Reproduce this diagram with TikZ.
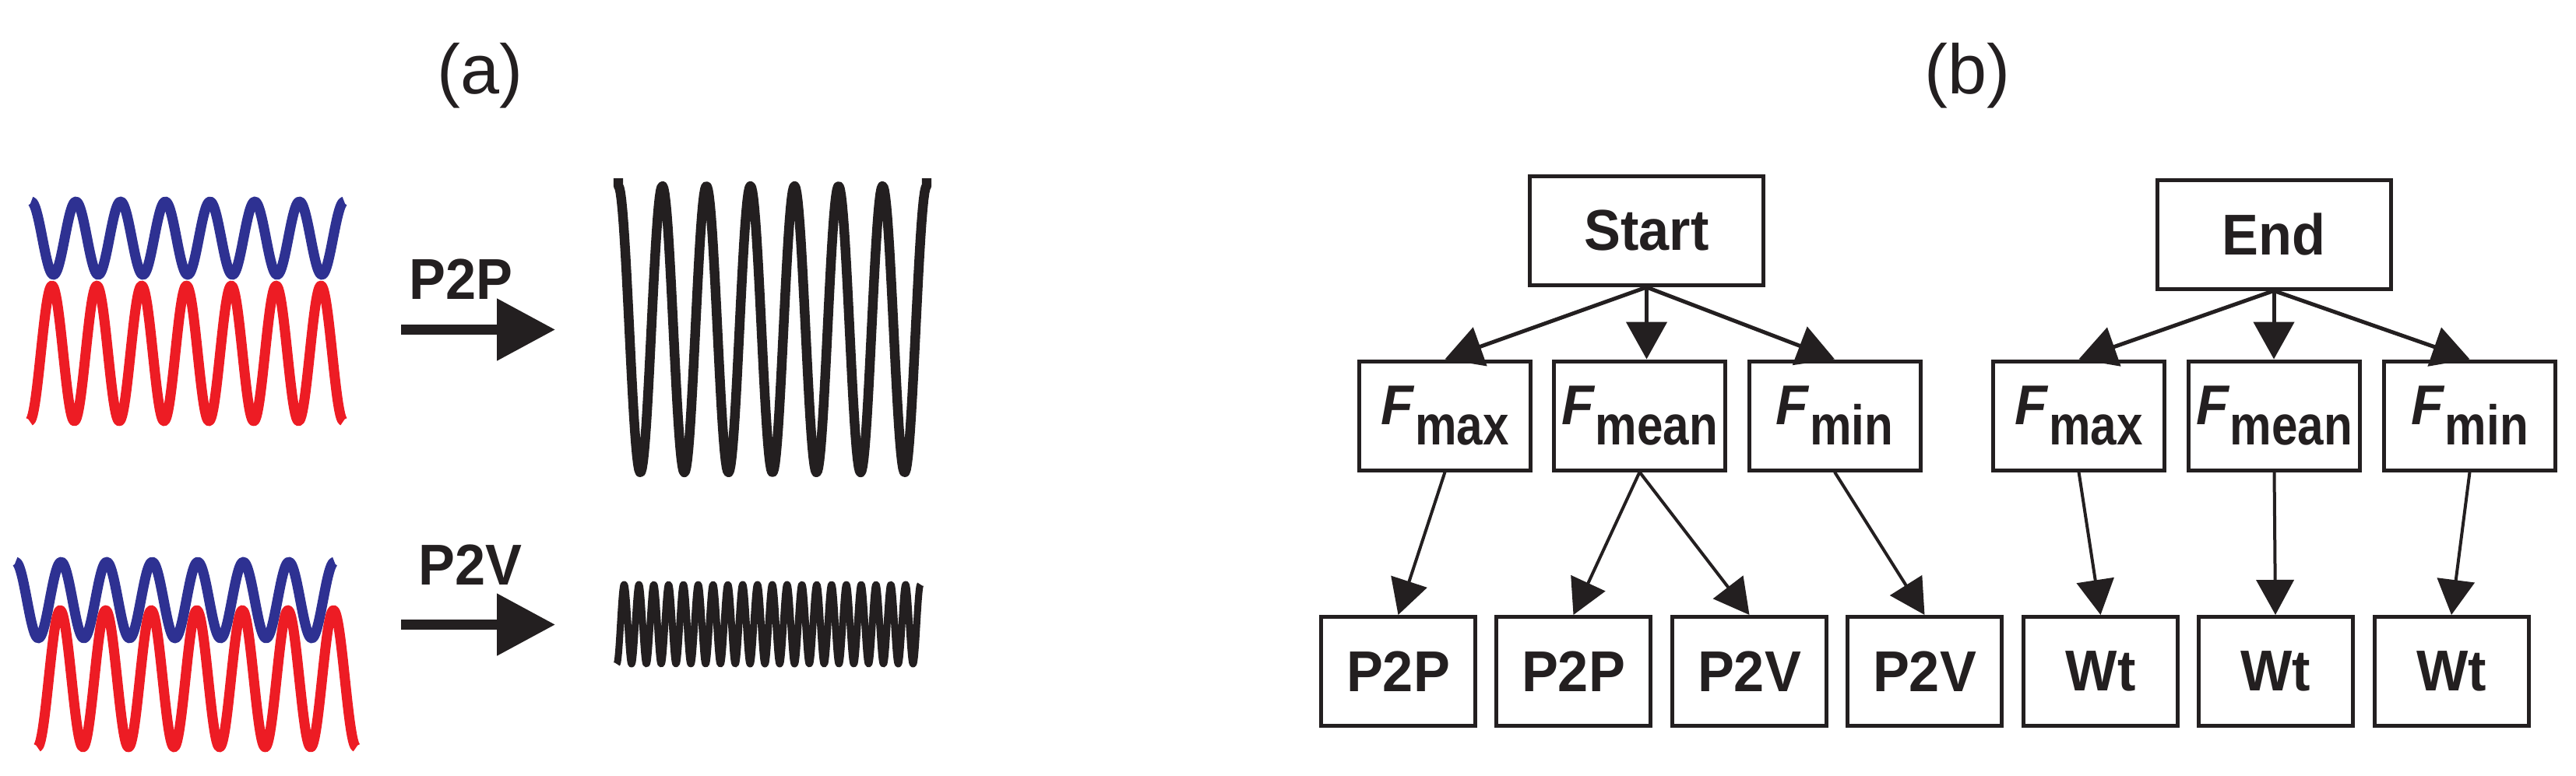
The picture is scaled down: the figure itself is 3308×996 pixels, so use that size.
\documentclass[tikz,border=0pt]{standalone}
\usepackage{fontspec}
\usepackage{graphicx}
\setmainfont{Liberation Sans}
\newfontfamily\lblfont{Liberation Sans}[FakeStretch=0.95]
\usetikzlibrary{arrows.meta}
\definecolor{wblue}{HTML}{2E3192}
\definecolor{wred}{HTML}{ED1C24}
\definecolor{wblack}{HTML}{231F20}
\newcommand{\Fsub}[1]{{\itshape F}\kern0.5pt\raisebox{-6.5pt}{\scalebox{0.88}[1]{#1}}}
\tikzset{
  box/.style={draw=wblack, line width=1.25pt, inner sep=0pt, text=wblack,
    font=\lblfont\bfseries\fontsize{18.5pt}{22pt}\selectfont},
  topbox/.style={box, minimum width=75pt, minimum height=35pt},
  fbox/.style={box, minimum width=55pt, minimum height=35pt,
    font=\lblfont\bfseries\fontsize{18pt}{22pt}\selectfont},
  leaf/.style={box, minimum width=49.5pt, minimum height=35pt},
  conn/.style={draw=wblack, line width=1.25pt, -{Triangle[length=12pt,width=13pt]}},
  conn2/.style={draw=wblack, line width=1pt, -{Triangle[length=11.25pt,width=12pt]}},
  bigarrow/.style={draw=wblack, line width=3.1pt, -{Triangle[length=18.75pt,width=19.25pt]}},
  wave/.style={line width=3.25pt, line join=round},
  lbl/.style={inner sep=0pt, text=wblack, font=\lblfont\bfseries\fontsize{18.5pt}{22pt}\selectfont},
  panel/.style={inner sep=0pt, text=wblack, font=\fontsize{22.5pt}{26pt}\selectfont}
}
\begin{document}
\begin{tikzpicture}[x=0.25pt, y=-0.25pt]
\path[use as bounding box] (0,0) rectangle (3308,996);

% ---------- panel (a) ----------
\node[panel] (la) at (616.5,97.5) {(a)};

% top pair (P2P)
\draw[wave, wblue] plot[domain=40:442, samples=300]
  (\x, {306-47*cos(((\x-40)/57.43)*360)});
\draw[wave, wred] plot[domain=38:441, samples=300]
  (\x, {454+87*cos(((\x-38)/57.57)*360)});

% bottom pair (P2V)
\draw[wave, wblue] plot[domain=20:429.5, samples=300]
  (\x, {771-49*cos(((\x-20)/58.5)*360)});
\draw[wave, wred] plot[domain=48:457.5, samples=300]
  (\x, {872+88*cos(((\x-48)/58.5)*360)});

% arrows and labels
\node[lbl] (lp2p) at (592,358.5) {P2P};
\coordinate (p2pS) at (515,423.5);
\coordinate (p2pE) at (713,423.5);
\draw[bigarrow] (p2pS) -- (p2pE);

\node[lbl] (lp2v) at (604,725.5) {P2V};
\coordinate (p2vS) at (515,802.5);
\coordinate (p2vE) at (713,802.5);
\draw[bigarrow] (p2vS) -- (p2vE);

% result waves
\draw[wblack, line width=3.1pt, line join=round] (794,229) --
  plot[domain=794:1190, samples=300] (\x, {423-184*cos(((\x-794)/56.571)*360)})
  -- (1190,229);
\draw[wblack, line width=2.25pt, line join=round]
  plot[domain=792:1182, samples=700] (\x, {802+51*cos(((\x-792)/19.024)*360)});

% ---------- panel (b) ----------
\node[panel] (lb) at (2526,97.5) {(b)};

\node[topbox] (start) at (2114.5,296.5) {Start};
\node[topbox] (end) at (2920,301) {End};

\node[fbox] (fmaxL)  at (1855.5,534) {\Fsub{max}};
\node[fbox] (fmeanL) at (2105.5,534) {\Fsub{mean}};
\node[fbox] (fminL)  at (2356,534)   {\Fsub{min}};
\node[fbox] (fmaxR)  at (2669.5,534) {\Fsub{max}};
\node[fbox] (fmeanR) at (2920.5,534) {\Fsub{mean}};
\node[fbox] (fminR)  at (3171.5,534) {\Fsub{min}};

\node[leaf] (l1) at (1795.5,862.5) {P2P};
\node[leaf] (l2) at (2020.5,862.5) {P2P};
\node[leaf] (l3) at (2246.5,862.5) {P2V};
\node[leaf] (l4) at (2471.5,862.5) {P2V};
\node[leaf] (l5) at (2697.5,862.5) {Wt};
\node[leaf] (l6) at (2922,862.5)   {Wt};
\node[leaf] (l7) at (3148,862.5)   {Wt};

\draw[conn] (start.south) -- (fmaxL.north);
\draw[conn] (start.south) -- (start.south |- fmeanL.north);
\draw[conn] (start.south) -- (fminL.north);
\draw[conn] (end.south) -- (fmaxR.north);
\draw[conn] (end.south) -- (end.south |- fmeanR.north);
\draw[conn] (end.south) -- (fminR.north);

\draw[conn2] (fmaxL.south) -- (l1.north);
\draw[conn2] (fmeanL.south) -- (l2.north);
\draw[conn2] (fmeanL.south) -- (l3.north);
\draw[conn2] (fminL.south) -- (l4.north);
\draw[conn2] (fmaxR.south) -- (l5.north);
\draw[conn2] (fmeanR.south) -- (l6.north);
\draw[conn2] (fminR.south) -- (l7.north);
\end{tikzpicture}
\end{document}
